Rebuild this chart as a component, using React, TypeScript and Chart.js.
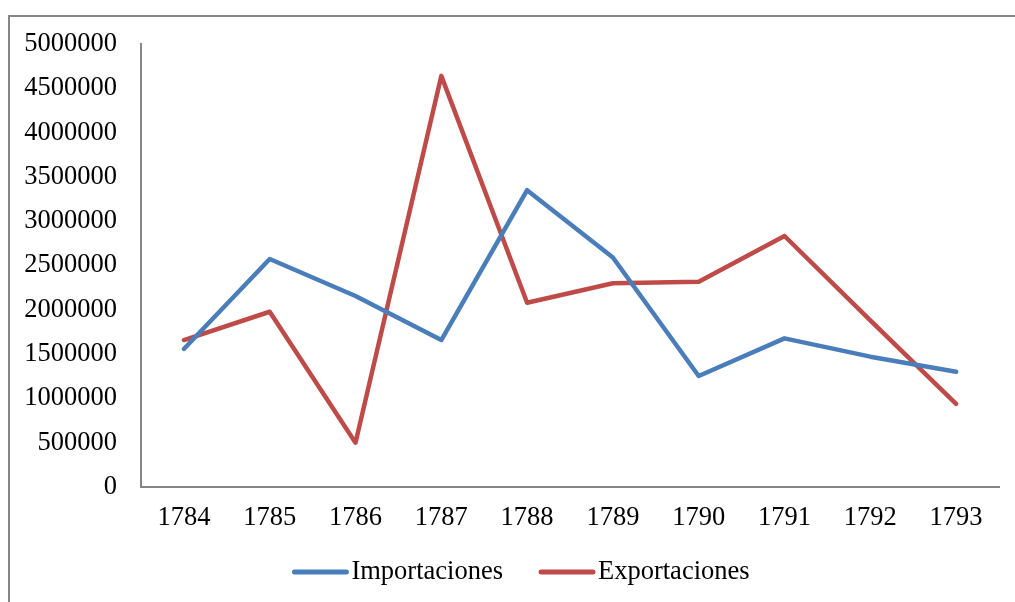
import React, { useEffect, useRef } from "react";
import { Chart, registerables } from "chart.js";

Chart.register(...registerables);

const categories = ["1784", "1785", "1786", "1787", "1788", "1789", "1790", "1791", "1792", "1793"];
const importaciones = [1558000, 2573000, 2156000, 1659000, 3350000, 2590000, 1253000, 1678000, 1471000, 1300000];
const exportaciones = [1659000, 1978000, 500000, 4640000, 2080000, 2300000, 2317000, 2833000, 1880000, 937000];
const seriesNames = ["Importaciones", "Exportaciones"];
const yTicks = { min: 0, max: 5000000, step: 500000 };

const BLUE = "#4A7EBB";
const RED = "#BE4B48";
const AXIS = "#868686";
const FONT = "'Liberation Serif', 'Times New Roman', serif";
const FS = 26.5;

const legendPlugin = {
  id: "customLegend",
  afterDraw(chart: any) {
    const ctx = chart.ctx;
    const items = chart.data.datasets.map((d: any) => ({ label: d.label, color: d.borderColor }));
    ctx.save();
    ctx.font = `${FS}px ${FONT}`;
    const lineW = 56;
    const gapText = 3;
    const gapItem = 36;
    const widths = items.map((it: any) => lineW + gapText + ctx.measureText(it.label).width);
    const total = widths.reduce((a: number, b: number) => a + b, 0) + gapItem * (items.length - 1);
    let x = 511 - total / 2;
    const y = 555;
    items.forEach((it: any, i: number) => {
      ctx.strokeStyle = it.color;
      ctx.lineWidth = 5;
      ctx.lineCap = "round";
      ctx.beginPath();
      ctx.moveTo(x + 2, y);
      ctx.lineTo(x + lineW - 2, y);
      ctx.stroke();
      ctx.fillStyle = "#000";
      ctx.textBaseline = "middle";
      ctx.textAlign = "left";
      ctx.fillText(it.label, x + lineW + gapText, y);
      x += widths[i] + gapItem;
    });
    ctx.restore();
  },
};

export default function App() {
  const ref = useRef<HTMLCanvasElement>(null);
  useEffect(() => {
    if (!ref.current) return;
    const chart = new Chart(ref.current, {
      type: "line",
      data: {
        labels: categories,
        datasets: [
          {
            label: seriesNames[0],
            data: importaciones,
            borderColor: BLUE,
            backgroundColor: BLUE,
            borderWidth: 4.5,
            pointRadius: 0,
            tension: 0,
            borderCapStyle: "round",
            borderJoinStyle: "round",
          },
          {
            label: seriesNames[1],
            data: exportaciones,
            borderColor: RED,
            backgroundColor: RED,
            borderWidth: 4.5,
            pointRadius: 0,
            tension: 0,
            borderCapStyle: "round",
            borderJoinStyle: "round",
          },
        ],
      },
      options: {
        animation: false,
        responsive: false,
        maintainAspectRatio: false,
        layout: { padding: { top: 27, right: 16, bottom: 0, left: 0 } },
        plugins: { legend: { display: false }, tooltip: { enabled: false } },
        scales: {
          x: {
            offset: true,
            grid: { display: false, drawTicks: false },
            border: { display: true, color: AXIS, width: 2 },
            ticks: { color: "#000", font: { family: FONT, size: FS }, padding: 15, maxRotation: 0 },
            afterFit: (s: any) => {
              s.height = 115;
            },
          },
          y: {
            min: yTicks.min,
            max: yTicks.max,
            grid: { display: false, drawTicks: false },
            border: { display: true, color: AXIS, width: 2 },
            ticks: {
              stepSize: yTicks.step,
              color: "#000",
              font: { family: FONT, size: FS },
              padding: 24,
              callback: (v: any) => String(v),
            },
            afterFit: (s: any) => {
              s.width = 131;
              s.paddingTop = 0;
              s.paddingBottom = 0;
            },
          },
        },
      },
      plugins: [legendPlugin],
    });
    return () => chart.destroy();
  }, []);
  return (
    <div
      style={{
        position: "absolute",
        left: 8,
        top: 15,
        width: 1007,
        height: 587,
        boxSizing: "border-box",
        borderTop: `2px solid ${AXIS}`,
        borderLeft: `2px solid ${AXIS}`,
        background: "#fff",
        overflow: "hidden",
      }}
    >
      <canvas ref={ref} width={1005} height={585} style={{ display: "block" }} />
    </div>
  );
}
